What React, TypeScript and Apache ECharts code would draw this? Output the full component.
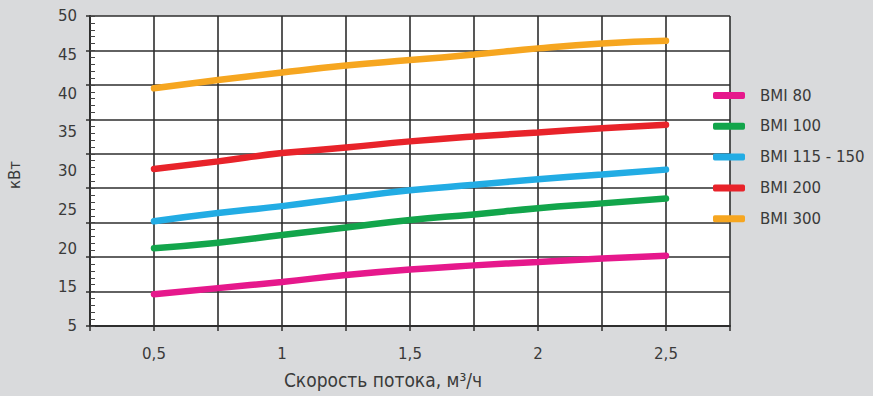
import React, { useEffect, useRef } from "react";
import * as echarts from "echarts";

const xValues = [0.5, 0.75, 1, 1.25, 1.5, 1.75, 2, 2.25, 2.5];
const bmi80 = [9.6, 10.5, 11.4, 12.4, 13.2, 13.8, 14.3, 14.8, 15.2];
const bmi100 = [16.3, 17.1, 18.2, 19.3, 20.4, 21.2, 22.1, 22.8, 23.5];
const bmi115 = [20.2, 21.4, 22.4, 23.6, 24.7, 25.5, 26.3, 27.0, 27.7];
const bmi200 = [27.8, 28.9, 30.1, 30.9, 31.8, 32.5, 33.1, 33.7, 34.2];
const bmi300 = [39.5, 40.7, 41.8, 42.8, 43.6, 44.4, 45.3, 46.0, 46.4];

const seriesNames = ["BMI 80", "BMI 100", "BMI 115 - 150", "BMI 200", "BMI 300"];
const seriesValues = [bmi80, bmi100, bmi115, bmi200, bmi300];
const seriesColors = ["#e6188c", "#12a54b", "#22ace4", "#e8232a", "#f6a620"];

const xTickValues = [0.5, 1, 1.5, 2, 2.5];
const xTickLabels = ["0,5", "1", "1,5", "2", "2,5"];
const yTickLabels = ["5", "15", "20", "25", "30", "35", "40", "45", "50"];

const xAxisName = "Скорость потока, м³/ч";
const yAxisName = "кВт";

const BG = "#d9dadc";
const INK = "#2e2e2e";
const TXT = "#3a3a3a";
const FONT = "'DejaVu Sans', sans-serif";

export default function App() {
  const ref = useRef<HTMLDivElement>(null);
  useEffect(() => {
    if (!ref.current) return;
    const chart = echarts.init(ref.current, undefined, { renderer: "svg" });
    chart.setOption({
      animation: false,
      backgroundColor: BG,
      grid: {
        left: 90,
        right: 143,
        top: 16,
        bottom: 70,
        show: true,
        backgroundColor: "#ffffff",
        borderWidth: 0,
      },
      legend: {
        orient: "vertical",
        left: 713,
        top: 88,
        padding: 0,
        itemWidth: 32,
        itemHeight: 7,
        itemGap: 15.8,
        icon: "roundRect",
        data: seriesNames,
        textStyle: {
          color: TXT,
          fontSize: 15,
          fontFamily: FONT,
          padding: [0, 0, 0, 10],
        },
      },
      xAxis: {
        type: "value",
        min: 0.25,
        max: 2.75,
        interval: 0.25,
        axisLine: { show: true, lineStyle: { color: INK, width: 2 } },
        axisTick: { show: true, length: 5, lineStyle: { color: INK, width: 1.5 } },
        axisLabel: {
          margin: 20,
          color: TXT,
          fontSize: 15,
          fontFamily: FONT,
          formatter: (v: number) => {
            const i = xTickValues.findIndex((t) => Math.abs(t - v) < 1e-6);
            return i >= 0 ? xTickLabels[i] : "";
          },
        },
        splitLine: { show: true, lineStyle: { color: INK, width: 1.6 } },
      },
      yAxis: [
        {
          type: "value",
          min: 5,
          max: 50,
          interval: 5,
          position: "left",
          axisLine: { show: true, lineStyle: { color: INK, width: 2 } },
          axisTick: { show: true, length: 4, lineStyle: { color: INK, width: 1.5 } },
          axisLabel: { show: false },
          splitLine: { show: true, lineStyle: { color: INK, width: 1.6 } },
        },
        {
          type: "value",
          min: 5,
          max: 50,
          interval: 1,
          position: "left",
          axisLine: { show: false },
          axisTick: { show: true, inside: true, length: 5, lineStyle: { color: "#444", width: 1 } },
          axisLabel: { show: false },
          splitLine: { show: false },
        },
        {
          type: "category",
          data: yTickLabels,
          boundaryGap: false,
          position: "left",
          axisLine: { show: false },
          axisTick: { show: false },
          axisLabel: { margin: 13, color: TXT, fontSize: 15, fontFamily: FONT },
          splitLine: { show: false },
        },
      ],
      graphic: [
        {
          type: "text",
          x: 15,
          y: 175,
          rotation: Math.PI / 2,
          style: {
            text: yAxisName,
            fill: TXT,
            font: `15px ${FONT}`,
            align: "center",
            verticalAlign: "middle",
          },
        },
        {
          type: "text",
          x: 383,
          y: 380,
          style: {
            text: xAxisName,
            fill: TXT,
            font: `19px 'DejaVu Sans Condensed', sans-serif`,
            align: "center",
            verticalAlign: "middle",
          },
        },
      ],
      series: seriesNames.map((name, si) => ({
        name,
        type: "line",
        yAxisIndex: 0,
        smooth: true,
        showSymbol: false,
        color: seriesColors[si],
        lineStyle: { width: 6.5, color: seriesColors[si], cap: "round" },
        data: xValues.map((x, i) => [x, seriesValues[si][i]]),
      })),
    });
    return () => chart.dispose();
  }, []);
  return (
    <div
      ref={ref}
      style={{ position: "fixed", left: 0, top: 0, width: 873, height: 396, background: BG }}
    />
  );
}
